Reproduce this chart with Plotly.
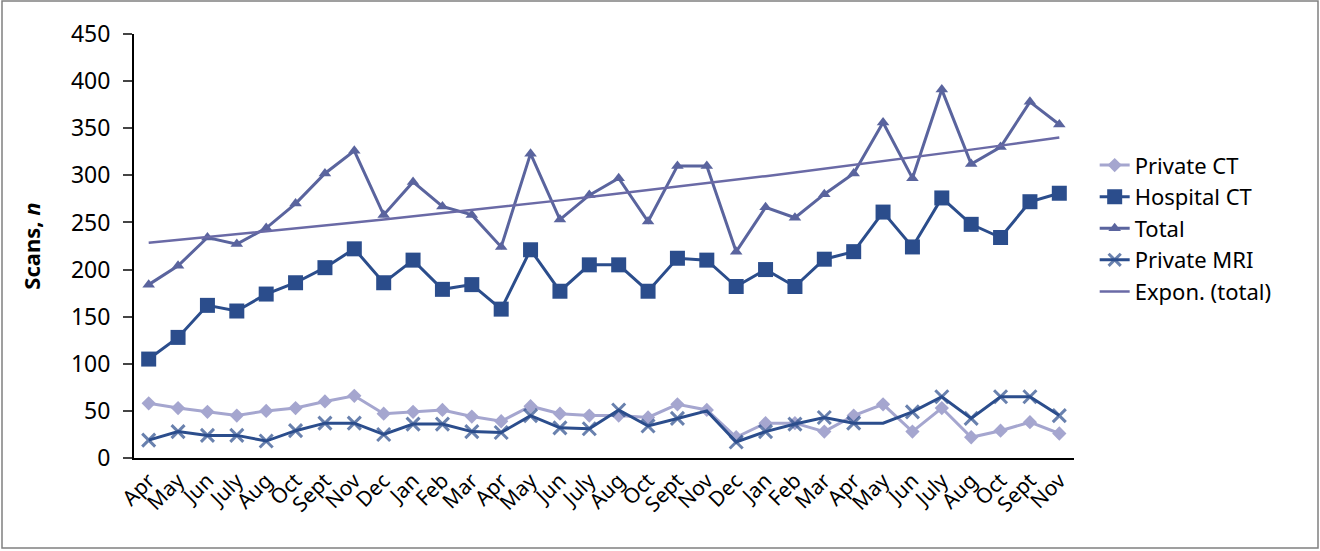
import numpy as np
import plotly.graph_objects as go

# x categories (months, repeated across years)
months = ["Apr", "May", "Jun", "July", "Aug", "Oct", "Sept", "Nov", "Dec", "Jan", "Feb", "Mar",
          "Apr", "May", "Jun", "July", "Aug", "Oct", "Sept", "Nov", "Dec", "Jan", "Feb", "Mar",
          "Apr", "May", "Jun", "July", "Aug", "Oct", "Sept", "Nov"]
idx = list(range(len(months)))

private_ct = [58, 53, 49, 45, 50, 53, 60, 66, 47, 49, 51, 44, 39, 55, 47, 45,
              45, 43, 57, 51, 22, 37, 37, 28, 45, 57, 28, 53, 22, 29, 38, 26]
hospital_ct = [105, 128, 162, 156, 174, 186, 202, 222, 186, 210, 179, 184, 158, 221, 177, 205,
               205, 177, 212, 210, 182, 200, 182, 211, 219, 261, 224, 276, 248, 234, 272, 281]
total = [184, 204, 234, 227, 244, 270, 302, 326, 258, 293, 267, 258, 224, 323, 253, 279,
         297, 251, 310, 310, 219, 266, 255, 280, 302, 356, 297, 391, 312, 330, 378, 354]
private_mri = [19, 28, 24, 24, 18, 29, 37, 37, 25, 36, 36, 28, 27, 45, 32, 31,
               51, 34, 42, 50, 17, 28, 36, 43, 37, 37, 49, 65, 42, 65, 65, 45]
mri_marker = [13] * 32
mri_marker[19] = 0  # no marker drawn at these two points
mri_marker[25] = 0

# exponential trend of total (like Excel "Expon.")
b, a = np.polyfit(np.arange(1, 33), np.log(total), 1)
trend = np.exp(a) * np.exp(b * np.arange(1, 33))

FONT = "Noto Sans"
c_light = "#a5a6cf"
c_dark = "#2b4d8c"
c_total = "#5a649e"
c_trend = "#6a6aa6"

fig = go.Figure()
fig.add_trace(go.Scatter(x=idx, y=private_ct, name="Private CT", mode="lines+markers",
                         line=dict(color=c_light, width=3),
                         marker=dict(symbol="diamond", size=11, color=c_light)))
fig.add_trace(go.Scatter(x=idx, y=hospital_ct, name="Hospital CT", mode="lines+markers",
                         line=dict(color=c_dark, width=3),
                         marker=dict(symbol="square", size=15, color=c_dark)))
fig.add_trace(go.Scatter(x=idx, y=total, name="Total", mode="lines+markers",
                         line=dict(color=c_total, width=3),
                         marker=dict(symbol="triangle-up", size=11, color=c_total)))
fig.add_trace(go.Scatter(x=idx, y=private_mri, name="Private MRI", mode="lines+markers",
                         line=dict(color=c_dark, width=3),
                         marker=dict(symbol="x-thin", size=mri_marker, color=c_dark,
                                     line=dict(color=c_dark, width=3))))
fig.add_trace(go.Scatter(x=idx, y=trend, name="Expon. (total)", mode="lines",
                         line=dict(color=c_trend, width=2.5)))

fig.update_layout(
    width=1320, height=551,
    paper_bgcolor="white", plot_bgcolor="white",
    margin=dict(l=134, r=246, t=34, b=93),
    font=dict(family=FONT, size=22, color="black"),
    xaxis=dict(range=[-0.5, 31.5], tickmode="array", tickvals=idx, ticktext=months,
               tickangle=-45, showgrid=False, zeroline=False, showline=True,
               linecolor="black", linewidth=2, ticks="", tickfont=dict(size=21),
               automargin=False),
    yaxis=dict(range=[0, 450], dtick=50, showgrid=False, zeroline=False, showline=True,
               linecolor="black", linewidth=2, ticks="outside", ticklen=9, tickwidth=2,
               tickfont=dict(size=23), ticklabelstandoff=8, automargin=False,
               title=dict(text="<b>Scans, <i>n</i></b>", font=dict(size=22), standoff=24)),
    legend=dict(x=1.022, y=0.74, xanchor="left", yanchor="top", font=dict(size=22),
                bgcolor="rgba(0,0,0,0)", tracegroupgap=0, itemwidth=30),
    showlegend=True,
)
# thin frame around the whole chart
fig.add_shape(type="rect", xref="paper", yref="paper",
              x0=-132 / 940, x1=(1318 - 134) / 940, y0=-90 / 424, y1=1 + 33 / 424,
              line=dict(color="#808080", width=1.5))

fig.write_html("out.html", config={"displayModeBar": False},
               post_script="document.body.style.margin='0px';")
